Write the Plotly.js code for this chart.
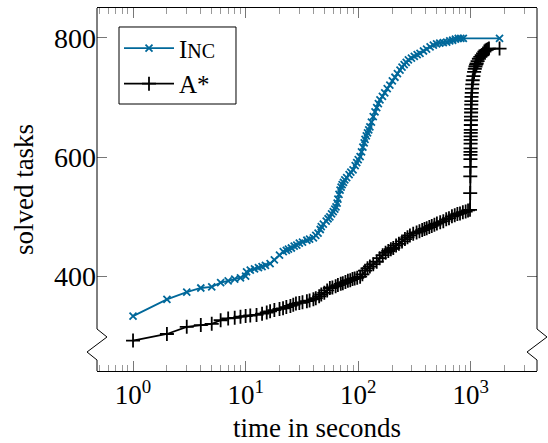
<!DOCTYPE html>
<html>
<head>
<meta charset="utf-8">
<script src="https://cdn.plot.ly/plotly-3.0.1.min.js"></script>
<style>html,body{margin:0;padding:0;background:#fff;}#chart{width:548px;height:443px;}</style>
</head>
<body>
<div id="chart"></div>
<script>
// Inc series: time (s) and solved tasks
const incTime = [1,2,3,4,5,6,7,8,9,10,10.2,11,12,13,14,15,16.5,18,20,21.6,23,24,25.5,27,28.5,30,32,35,37,40,42,44,46,47,49,52,54,56,58,60,62,63.5,65,66,67.5,69,70.5,72,74,76,79,83,86,90,94,97,100,104,107,110,113,115,118,121,124,127,131,136,141,146,151,156,164,172,181,191,201,212,223,235,245,256,267,279,297,315,334,354,380,405,435,465,497,530,570,611,650,690,730,774,815,858,1800];
const incSolved = [334,362,374,381,383,390,393,396,398,401,408,411,413,415,417,419,422,428,436,442,444,446,448,451,453,456,458,461,463,465,469,473,479,484,488,493,497,500,505,509,513,517,523,530,538,545,550,554,558,562,566,571,575,579,586,591,596,601,609,617,624,630,636,641,646,651,659,668,676,683,690,696,702,708,715,721,728,734,740,746,751,755,759,763,766,769,772,774,778,781,785,788,790,791,792,793,795,796,798,799,799,799,799];
// A* series
const astarTime = [1,2,3,4,5,6,7,8,9,10,11,12.5,14,15.4,16.5,18,20,21.5,23,25,26.5,28,30,32,35,37,40,42,45,47,50,53,56,59,63,66,70,73,77,81,85,89,93,98,104,109,115,121,127,136,146,155,165,175,185,195,205,217,230,245,260,274,288,308,330,350,370,388,406,428,450,475,500,535,570,605,640,680,720,760,802,850,900,945,984,988,990,992,993,993.5,994,995,996,997,998,999,1000,1001,1003,1004,1006,1008,1010,1012,1015,1020,1025,1032,1040,1055,1070,1085,1100,1115,1128,1150,1180,1215,1250,1285,1320,1350,1384,1420,1450,1800];
const astarSolved = [293,304,316,319,321,327,330,331,333,334,335,336,338,340,342,344,346,347,349,351,353,355,356,357,359,360,362,364,367,370,373,377,381,382,384,386,388,389,391,393,394,396,397,398,400,404,410,414,417,421,425,431,436,440,443,446,448,452,455,459,463,466,469,472,474,476,478,480,481,483,485,487,489,491,493,496,498,501,503,505,506,508,509,511,512,540,568,584,597,604,609,615,623,629,635,641,646,654,662,668,675,681,688,694,701,708,715,722,729,736,743,748,752,755,757,761,765,768,771,774,777,779,780,781,782,782];
const seriesNames = ['I<span style="font-size:20px">NC</span>', 'A*'];
const xTickVals = [1, 10, 100, 1000];
const xTickText = ['10<sup>0</sup>', '10<sup>1</sup>', '10<sup>2</sup>', '10<sup>3</sup>'];
const xMinorVals = [0.5,0.6,0.7,0.8,0.9,2,3,4,5,6,7,8,9,20,30,40,50,60,70,80,90,200,300,400,500,600,700,800,900,2000,3000];
const yTickVals = [400, 600, 800];

const FONT = "'Liberation Serif', 'Times New Roman', serif";
const blue = '#00689a';

const traces = [
  {x: incTime, y: incSolved, name: seriesNames[0], type: 'scatter', mode: 'lines+markers',
   line: {color: blue, width: 1.8},
   marker: {symbol: 'x-thin-open', size: 7, color: blue, line: {color: blue, width: 1.8}}},
  {x: astarTime, y: astarSolved, name: seriesNames[1], type: 'scatter', mode: 'lines+markers',
   line: {color: '#000', width: 1.8},
   marker: {symbol: 'cross-thin-open', size: 10, color: '#000', line: {color: '#000', width: 1.8}}}
];

// broken y-axis lines (left and right) drawn in paper coords
function axisPath(x0, dx) {
  const p = (x, y) => x + ',' + y;
  return 'M' + p(x0, 1) + ' L' + p(x0, 0.1157) + ' L' + p(x0 + dx, 0.0937) + ' L' + p(x0 - dx, 0.0523) + ' L' + p(x0, 0.0303) + ' L' + p(x0, 0);
}

const layout = {
  width: 548, height: 443,
  margin: {l: 97, r: 11, t: 8, b: 72, pad: 0},
  paper_bgcolor: '#fff', plot_bgcolor: '#fff',
  font: {family: FONT, size: 27, color: '#000'},
  showlegend: true,
  legend: {x: 0.05, y: 0.952, xanchor: 'left', yanchor: 'top', bgcolor: 'rgba(0,0,0,0)',
           borderwidth: 0, itemwidth: 50,
           font: {family: FONT, size: 25, color: '#000'}},
  xaxis: {
    type: 'log', range: [-0.32, 3.588],
    tickvals: xTickVals, ticktext: xTickText,
    ticks: 'inside', ticklen: 10, tickwidth: 1, tickcolor: '#777',
    minor: {tickmode: 'array', tickvals: xMinorVals, ticks: 'inside', ticklen: 6, tickwidth: 1, tickcolor: '#999', showgrid: false},
    showline: true, linecolor: '#000', linewidth: 1, mirror: 'allticks',
    showgrid: false, zeroline: false,
    ticklabelstandoff: 0,
    tickfont: {family: FONT, size: 27},
    title: {text: 'time in seconds', font: {family: FONT, size: 27}, standoff: 12}
  },
  yaxis: {
    range: [242, 850],
    tickvals: yTickVals,
    ticks: 'inside', ticklen: 10, tickwidth: 1, tickcolor: '#777',
    showline: false, mirror: 'allticks',
    showgrid: false, zeroline: false,
    tickfont: {family: FONT, size: 28},
    title: {text: 'solved tasks', font: {family: FONT, size: 27}, standoff: 12}
  },
  shapes: [
    {type: 'path', xref: 'paper', yref: 'paper', path: axisPath(0, 0.0227), line: {color: '#000', width: 1}},
    {type: 'path', xref: 'paper', yref: 'paper', path: axisPath(1, 0.0227), line: {color: '#000', width: 1}},
    {type: 'rect', xref: 'paper', yref: 'paper', x0: 0.05, x1: 0.3159, y0: 0.7355, y1: 0.9477,
     fillcolor: '#fff', line: {color: '#000', width: 1}}
  ]
};

Plotly.newPlot('chart', traces, layout, {displayModeBar: false, staticPlot: true});
</script>
</body>
</html>
